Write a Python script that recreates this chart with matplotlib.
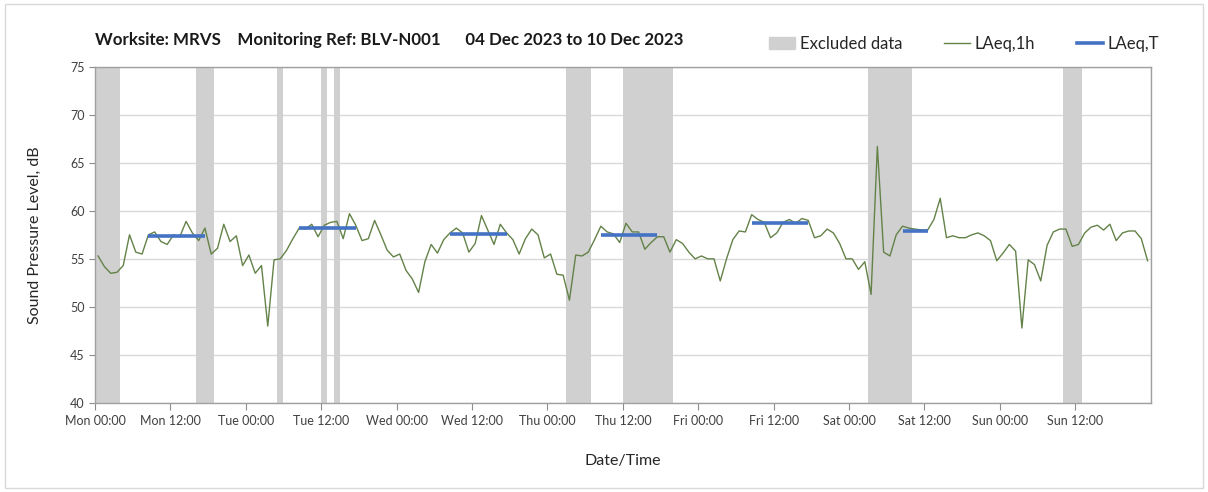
import matplotlib.pyplot as plt
import matplotlib.patches as mpatches
from matplotlib.lines import Line2D
import numpy as np

plt.rcParams["font.family"] = ["Lato", "DejaVu Sans"]

# LAeq,1h values, one per hour, Mon 00:00 .. Sun 23:00
laeq_1h = [
    55.3, 54.2, 53.5, 53.6, 54.3, 57.5, 55.7, 55.5, 57.5, 57.8, 56.8, 56.5,
    57.5, 57.3, 58.9, 57.7, 56.9, 58.2, 55.5, 56.1, 58.6, 56.8, 57.4, 54.3,
    55.4, 53.5, 54.3, 48.0, 54.9, 55.0, 55.9, 57.1, 58.2, 58.1, 58.6, 57.3,
    58.5, 58.8, 58.9, 57.1, 59.7, 58.5, 56.9, 57.1, 59.0, 57.5, 55.9, 55.2,
    55.5, 53.8, 52.9, 51.5, 54.7, 56.5, 55.6, 57.0, 57.7, 58.2, 57.7, 55.7,
    56.6, 59.5, 58.0, 56.5, 58.6, 57.7, 57.0, 55.5, 57.1, 58.1, 57.5, 55.1,
    55.5, 53.4, 53.3, 50.7, 55.4, 55.3, 55.7, 57.0, 58.4, 57.8, 57.6, 56.7,
    58.7, 57.8, 57.8, 56.0, 56.7, 57.3, 57.3, 55.7, 57.0, 56.6, 55.7, 55.0,
    55.3, 55.0, 55.0, 52.7, 55.0, 57.0, 57.9, 57.8, 59.6, 59.1, 58.8, 57.2,
    57.7, 58.8, 59.1, 58.7, 59.2, 59.0, 57.2, 57.4, 58.1, 57.7, 56.6, 55.0,
    55.0, 53.9, 54.7, 51.3, 66.7, 55.7, 55.3, 57.5, 58.4, 58.2, 58.1, 58.0,
    58.0, 59.1, 61.3, 57.2, 57.4, 57.2, 57.2, 57.5, 57.7, 57.4, 56.9, 54.8,
    55.6, 56.5, 55.8, 47.8, 54.9, 54.4, 52.7, 56.4, 57.8, 58.1, 58.1, 56.3,
    56.5, 57.7, 58.3, 58.5, 58.0, 58.6, 56.9, 57.7, 57.9, 57.9, 57.1, 54.8,
]

# excluded hours (index of hour from Mon 00:00)
excluded_hours = [0, 1, 2, 3, 16, 17, 18, 29, 36, 38, 75, 76, 77, 78,
                  84, 85, 86, 87, 88, 89, 90, 91,
                  123, 124, 125, 126, 127, 128, 129, 154, 155, 156]

# LAeq,T periods: first hour, last hour, level
laeq_t_start = [8, 32, 56, 80, 104, 128]
laeq_t_end = [17, 41, 65, 89, 113, 132]
laeq_t_level = [57.4, 58.2, 57.6, 57.5, 58.7, 57.9]

days = ["Mon", "Tue", "Wed", "Thu", "Fri", "Sat", "Sun"]
tick_labels = [f"{d} {t}" for d in days for t in ["00:00", "12:00"]]

fig = plt.figure(figsize=(12.08, 4.92), dpi=100)
ax = fig.add_axes([0.0786, 0.181, 0.874, 0.6834])

grey_col = "#d0d0d0"
green_col = "#638248"
blue_col = "#4472c4"

hours = np.arange(len(laeq_1h)) + 0.5
exc = np.array(excluded_hours) + 0.5
ax.bar(exc, [35] * len(exc), bottom=40, width=1.0, color=grey_col,
       linewidth=0, zorder=1)

ax.plot(hours, laeq_1h, color=green_col, lw=1.0, zorder=3)

for s, e, v in zip(laeq_t_start, laeq_t_end, laeq_t_level):
    ax.plot([s + 0.5, e + 0.5], [v, v], color=blue_col, lw=2.6,
            solid_capstyle="butt", zorder=4)

ax.set_xlim(0, 168)
ax.set_ylim(40, 75)
ax.set_yticks(np.arange(40, 76, 5))
ax.set_xticks(np.arange(0, 168, 12))
ax.set_xticklabels(tick_labels)
ax.set_xticks(np.arange(0, 169, 24), minor=True)
ax.tick_params(axis="x", which="major", length=5, color="#8c8c8c",
               labelsize=9, labelcolor="#404040", pad=4)
ax.tick_params(axis="x", which="minor", length=0)
ax.tick_params(axis="y", length=4, color="#8c8c8c", labelsize=9,
               labelcolor="#404040")
ax.grid(axis="y", color="#d9d9d9", lw=1.0, zorder=0)
ax.grid(axis="x", which="minor", color="#d9d9d9", lw=1.0, zorder=0)
ax.set_axisbelow(True)
for sp in ax.spines.values():
    sp.set_color("#a0a0a0")
    sp.set_linewidth(1.0)

ax.set_ylabel("Sound Pressure Level, dB", fontsize=11.5, color="#262626",
              labelpad=20)
ax.set_xlabel("Date/Time", fontsize=11.5, color="#262626", labelpad=19)

fig.text(0.079, 0.919,
         "Worksite: MRVS    Monitoring Ref: BLV-N001      04 Dec 2023 to 10 Dec 2023",
         fontsize=12.2, fontweight="bold", color="#1a1a1a", va="center")

handles = [
    mpatches.Patch(color=grey_col, label="Excluded data"),
    Line2D([], [], color=green_col, lw=1.0, label="LAeq,1h"),
    Line2D([], [], color=blue_col, lw=2.6, label="LAeq,T"),
]
fig.legend(handles=handles, loc="center right", bbox_to_anchor=(0.972, 0.911),
           ncol=3, frameon=False, fontsize=12, handlelength=1.55,
           handletextpad=0.3, columnspacing=2.5, labelcolor="#262626")

# light frame round the chart area
fig.patches.append(mpatches.Rectangle((0.004, 0.008), 0.992, 0.984,
                                      transform=fig.transFigure, fill=False,
                                      edgecolor="#d9d9d9", lw=1.0))

fig.savefig("out.png", dpi=100, facecolor="white")
